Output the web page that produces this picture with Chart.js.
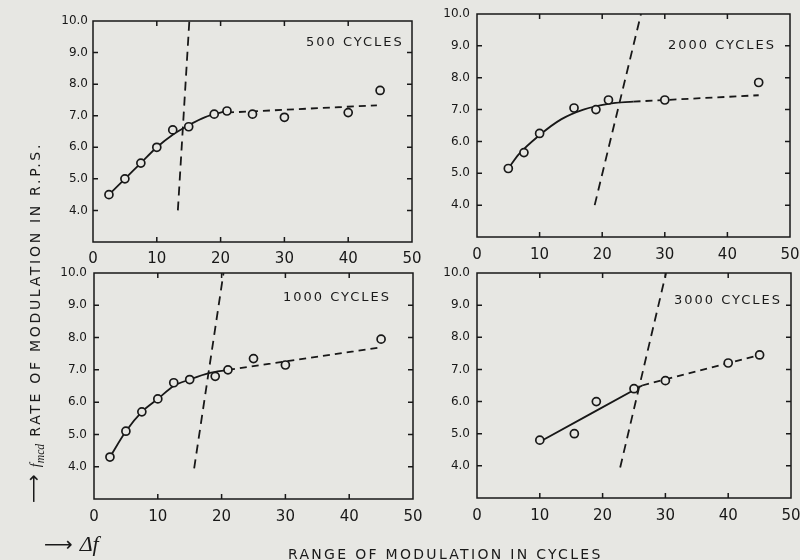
<!DOCTYPE html>
<html lang="en">
<head>
<meta charset="UTF-8">
<title>Rate of modulation vs range of modulation</title>
<script src="https://cdn.jsdelivr.net/npm/chart.js"></script>
<style>
  html, body { margin: 0; padding: 0; }
  body { width: 800px; height: 560px; background: #e7e7e3; position: relative; overflow: hidden;
         font-family: "DejaVu Sans", sans-serif; color: #1a1a1a; }
  canvas { position: absolute; }
  .lbl { position: absolute; white-space: nowrap; }
  .cyc { font-size: 13px; letter-spacing: 2px; line-height: 16px; }
  .xtitle { left: 288px; top: 545px; font-size: 14px; letter-spacing: 2.3px; line-height: 18px; }
  .ytitle { left: 21px; top: 503px; font-size: 14px; letter-spacing: 2.7px; line-height: 24px;
            transform-origin: left top; transform: rotate(-90deg); }
  .hand { font-family: "Liberation Serif", serif; font-style: italic; letter-spacing: 0; }
  .arrow { font-size: 20px; letter-spacing: 0; }
  .df { left: 44px; top: 530px; font-size: 22px; line-height: 28px; }
</style>
</head>
<body>
  <canvas id="p500" width="390" height="272" style="left:40px;top:0px"></canvas>
  <canvas id="p2000" width="380" height="272" style="left:420px;top:0px"></canvas>
  <canvas id="p1000" width="390" height="290" style="left:40px;top:262px"></canvas>
  <canvas id="p3000" width="380" height="290" style="left:420px;top:262px"></canvas>

  <div class="lbl cyc" style="left:306px;top:34px">500 CYCLES</div>
  <div class="lbl cyc" style="left:668px;top:37px">2000 CYCLES</div>
  <div class="lbl cyc" style="left:283px;top:289px">1000 CYCLES</div>
  <div class="lbl cyc" style="left:674px;top:292px">3000 CYCLES</div>

  <div class="lbl ytitle"><span class="arrow">⟶</span> <span class="hand">f<sub>mcd</sub></span> RATE OF MODULATION IN R.P.S.</div>
  <div class="lbl xtitle">RANGE OF MODULATION IN CYCLES</div>
  <div class="lbl df"><span class="arrow">⟶</span> <span class="hand">Δf</span></div>

<script>
const xTickValues = [0, 10, 20, 30, 40, 50];
const yTickValues = [4, 5, 6, 7, 8, 9, 10];

// 500 cycles
const c500X = [2.5, 5, 7.5, 10, 12.5, 15, 19, 21, 25, 30, 40, 45];
const c500Y = [4.5, 5.0, 5.5, 6.0, 6.55, 6.65, 7.05, 7.15, 7.05, 6.95, 7.1, 7.8];
const c500FitX = [2.5, 5, 7.5, 10, 12.5, 15, 17.5, 21];
const c500FitY = [4.5, 5.0, 5.5, 6.0, 6.4, 6.7, 6.95, 7.15];
const c500TrendX = [21, 44.5];
const c500TrendY = [7.1, 7.33];
const c500CritX = [13.3, 15.1];
const c500CritY = [4.0, 10.0];

// 2000 cycles
const c2000X = [5, 7.5, 10, 15.5, 19, 21, 30, 45];
const c2000Y = [5.15, 5.65, 6.25, 7.05, 7.0, 7.3, 7.3, 7.85];
const c2000FitX = [5, 6.7, 10, 13.5, 17, 21, 25];
const c2000FitY = [5.15, 5.6, 6.2, 6.7, 7.0, 7.18, 7.25];
const c2000TrendX = [25, 45];
const c2000TrendY = [7.25, 7.45];
const c2000CritX = [18.8, 26.2];
const c2000CritY = [4.0, 10.0];

// 1000 cycles
const c1000X = [2.5, 5, 7.5, 10, 12.5, 15, 19, 21, 25, 30, 45];
const c1000Y = [4.3, 5.1, 5.7, 6.1, 6.6, 6.7, 6.8, 7.0, 7.35, 7.15, 7.95];
const c1000FitX = [2.5, 5, 7.5, 10, 12.5, 15, 18, 21];
const c1000FitY = [4.3, 5.1, 5.7, 6.1, 6.5, 6.7, 6.9, 7.0];
const c1000TrendX = [21, 45];
const c1000TrendY = [7.0, 7.7];
const c1000CritX = [15.7, 20.3];
const c1000CritY = [3.95, 10.0];

// 3000 cycles
const c3000X = [10, 15.5, 19, 25, 30, 40, 45];
const c3000Y = [4.8, 5.0, 6.0, 6.4, 6.65, 7.2, 7.45];
const c3000FitX = [10, 26.3];
const c3000FitY = [4.75, 6.5];
const c3000TrendX = [26.3, 45];
const c3000TrendY = [6.5, 7.45];
const c3000CritX = [22.8, 30.1];
const c3000CritY = [3.95, 10.0];

const ink = '#181818';
const paper = '#e7e7e3';
const family = '"DejaVu Sans", sans-serif';

function pts(xs, ys) {
  return xs.map((x, i) => ({ x: x, y: ys[i] }));
}

// box with little inward ticks on all four sides
const frameTicks = {
  id: 'frameTicks',
  afterDraw(chart) {
    const { ctx, chartArea: a, scales: { x, y } } = chart;
    ctx.save();
    ctx.strokeStyle = ink;
    ctx.lineWidth = 1.5;
    ctx.strokeRect(a.left, a.top, a.width, a.height);
    ctx.beginPath();
    x.ticks.forEach(t => {
      if (t.value <= x.min || t.value >= x.max) return;
      const px = x.getPixelForValue(t.value);
      ctx.moveTo(px, a.bottom); ctx.lineTo(px, a.bottom - 5);
      ctx.moveTo(px, a.top); ctx.lineTo(px, a.top + 5);
    });
    y.ticks.forEach(t => {
      if (t.value <= y.min || t.value >= y.max) return;
      const py = y.getPixelForValue(t.value);
      ctx.moveTo(a.left, py); ctx.lineTo(a.left + 5, py);
      ctx.moveTo(a.right, py); ctx.lineTo(a.right - 5, py);
    });
    ctx.stroke();
    ctx.restore();
  }
};

function line(data, dash) {
  return {
    data: data, showLine: true, borderColor: ink, borderWidth: 1.8,
    borderDash: dash, pointRadius: 0, pointHoverRadius: 0,
    cubicInterpolationMode: 'monotone', tension: 0.4
  };
}

function panel(id, marks, frame) {
  new Chart(document.getElementById(id), {
    type: 'scatter',
    data: {
      datasets: [
        { data: pts(marks.x, marks.y), pointRadius: 4, pointHoverRadius: 4, pointBorderWidth: 1.7,
          pointBackgroundColor: paper, pointBorderColor: ink },
        line(pts(marks.fitX, marks.fitY), []),
        line(pts(marks.trendX, marks.trendY), [7, 5]),
        line(pts(marks.critX, marks.critY), [9, 6])
      ]
    },
    options: {
      responsive: false,
      animation: false,
      events: [],
      layout: { padding: { top: frame.top, right: frame.right, left: 0, bottom: 0 } },
      plugins: { legend: { display: false }, tooltip: { enabled: false } },
      scales: {
        x: {
          type: 'linear', min: 0, max: 50,
          grid: { display: false, drawTicks: false },
          border: { display: false },
          afterBuildTicks: s => { s.ticks = xTickValues.map(v => ({ value: v })); },
          afterFit: s => { s.height = frame.xh; s.paddingLeft = 0; s.paddingRight = 0; },
          ticks: { padding: frame.xpad, color: ink, font: { family: family, size: 15 },
                   maxRotation: 0, autoSkip: false, callback: v => String(v) }
        },
        y: {
          type: 'linear', min: 3, max: 10,
          grid: { display: false, drawTicks: false },
          border: { display: false },
          afterBuildTicks: s => { s.ticks = yTickValues.map(v => ({ value: v })); },
          afterFit: s => { s.width = frame.yw; s.paddingTop = 0; s.paddingBottom = 0; },
          ticks: { padding: frame.ypad, color: ink, font: { family: family, size: 12 },
                   autoSkip: false, callback: v => v.toFixed(1) }
        }
      }
    },
    plugins: [frameTicks]
  });
}

panel('p500', { x: c500X, y: c500Y, fitX: c500FitX, fitY: c500FitY, trendX: c500TrendX, trendY: c500TrendY, critX: c500CritX, critY: c500CritY },
      { yw: 53, top: 21, right: 18, xh: 30, xpad: 8, ypad: 5 });
panel('p2000', { x: c2000X, y: c2000Y, fitX: c2000FitX, fitY: c2000FitY, trendX: c2000TrendX, trendY: c2000TrendY, critX: c2000CritX, critY: c2000CritY },
      { yw: 57, top: 14, right: 10, xh: 35, xpad: 9, ypad: 7 });
panel('p1000', { x: c1000X, y: c1000Y, fitX: c1000FitX, fitY: c1000FitY, trendX: c1000TrendX, trendY: c1000TrendY, critX: c1000CritX, critY: c1000CritY },
      { yw: 54, top: 11, right: 17, xh: 53, xpad: 9, ypad: 7 });
panel('p3000', { x: c3000X, y: c3000Y, fitX: c3000FitX, fitY: c3000FitY, trendX: c3000TrendX, trendY: c3000TrendY, critX: c3000CritX, critY: c3000CritY },
      { yw: 57, top: 11, right: 9, xh: 54, xpad: 9, ypad: 7 });
</script>
</body>
</html>
